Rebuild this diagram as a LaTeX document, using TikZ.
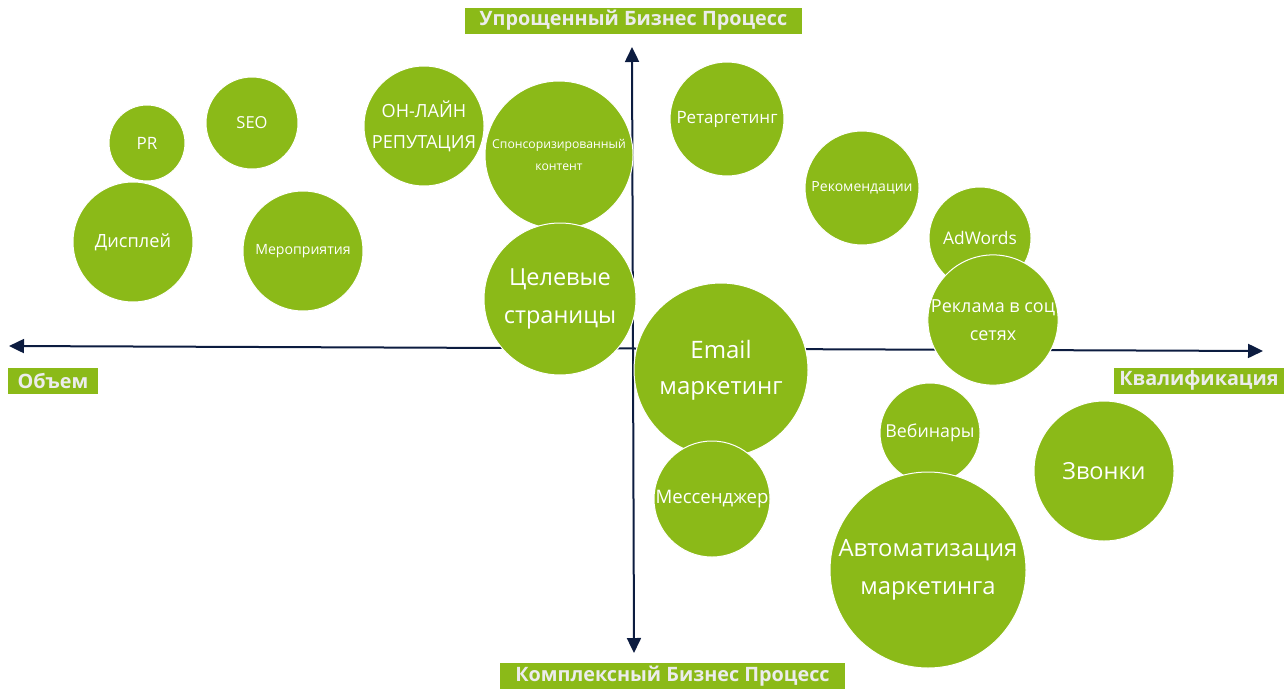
\documentclass[tikz,border=0pt]{standalone}
\usepackage{fontspec}
\setmainfont{Open Sans}
\newfontfamily\axisfont{Open Sans}
\usetikzlibrary{arrows.meta}

\definecolor{bubblegreen}{RGB}{139,186,24}
\definecolor{axisblue}{RGB}{12,28,64}
\definecolor{labelgrey}{RGB}{236,236,236}

\tikzset{
	bubble/.style={circle,fill=bubblegreen,draw=white,line width=1pt,text=white,align=center,inner sep=0pt},
	axislabel/.style={fill=bubblegreen,text=labelgrey,font=\axisfont\bfseries\fontsize{19.8}{20}\selectfont,inner sep=0pt,minimum height=26pt},
	axis/.style={draw=axisblue,line width=2pt,{Triangle[width=14pt,length=15pt]}-{Triangle[width=14pt,length=15pt]}}
}

\newcommand{\fsz}[2]{\fontsize{#1}{#2}\selectfont}

\begin{document}
\begin{tikzpicture}[x=1pt,y=-1pt]

	\useasboundingbox (0,0) rectangle (1284,688);

	% axes
	\coordinate (left) at (9,346);
	\coordinate (right) at (1263,351);
	\coordinate (top) at (632,47);
	\coordinate (bottom) at (634,653);
	\draw[axis] (left) -- (right);
	\draw[axis] (top) -- (bottom);

	\node[axislabel,minimum width=337pt] (simple) at (633.5,20.5) {Упрощенный Бизнес Процесс};
	\node[axislabel,minimum width=345pt] (complex) at (672.5,676) {Комплексный Бизнес Процесс};
	\node[axislabel,minimum width=90pt] (volume) at (53,380.5) {Объем};
	\node[axislabel,minimum width=170pt] (qual) at (1199,380.5) {Квалификация};

	% left half
	\node[bubble,minimum size=76pt,font=\fsz{17}{20}] (pr) at (147,143) {PR};
	\node[bubble,minimum size=92pt,font=\fsz{16.5}{20}] (seo) at (252,123) {SEO};
	\node[bubble,minimum size=120pt,font=\fsz{18.2}{24}] (display) at (133,242) {Дисплей};
	\node[bubble,minimum size=120pt,font=\fsz{14.1}{18}] (events) at (303,251) {Мероприятия};
	\node[bubble,minimum size=120pt,font=\fsz{18.1}{31}] (reput) at (424,126) {ОН-ЛАЙН\\РЕПУТАЦИЯ};
	\node[bubble,minimum size=148pt,font=\fsz{12.2}{22}] (sponsor) at (559,155) {Спонсоризированный\\контент};
	\node[bubble,minimum size=152pt,font=\fsz{23.5}{38}] (landing) at (560,299) {Целевые\\страницы};

	% right half
	\node[bubble,minimum size=114pt,font=\fsz{17}{22}] (retarget) at (727,119) {Ретаргетинг};
	\node[bubble,minimum size=114pt,font=\fsz{14}{18}] (recommend) at (862,188) {Рекомендации};
	\node[bubble,minimum size=102pt,font=\fsz{17.4}{23}] (adwords) at (980,238) {AdWords};
	\node[bubble,minimum size=130pt,font=\fsz{18}{28}] (social) at (993,320) {Реклама в соц\\сетях};
	\node[bubble,minimum size=174pt,font=\fsz{24}{36}] (email) at (721,370) {Email\\маркетинг};
	\node[bubble,minimum size=116pt,font=\fsz{18.6}{22}] (messenger) at (712,499) {Мессенджер};
	\node[bubble,minimum size=100pt,font=\fsz{17.8}{21}] (webinar) at (930,433) {Вебинары};
	\node[bubble,minimum size=140pt,font=\fsz{23.5}{30}] (calls) at (1104,471) {Звонки};
	\node[bubble,minimum size=196pt,font=\fsz{23.8}{38}] (automation) at (928,570) {Автоматизация\\маркетинга};

\end{tikzpicture}
\end{document}
